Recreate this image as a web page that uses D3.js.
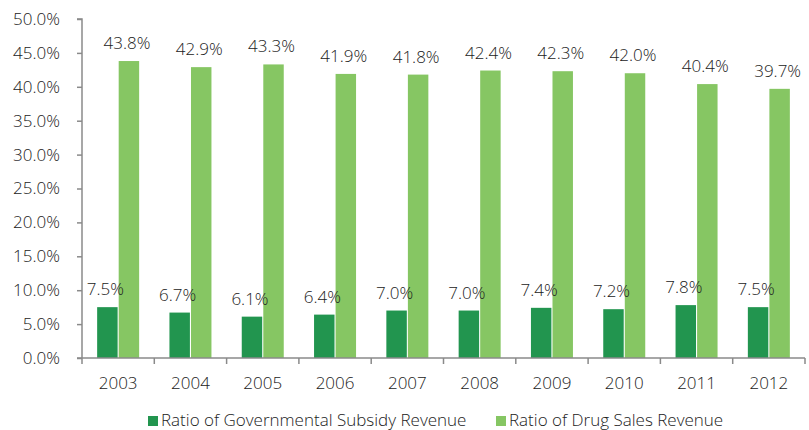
<!DOCTYPE html>
<html>
<head>
<meta charset="utf-8">
<script src="https://cdn.jsdelivr.net/npm/d3@7"></script>
<style>
  html, body { margin: 0; padding: 0; background: #fff; }
  svg text { font-family: "Open Sans", "Noto Sans", sans-serif; font-weight: 300; fill: #222; }
</style>
</head>
<body>
<svg id="chart" width="809" height="430"></svg>
<script>
const years = ["2003","2004","2005","2006","2007","2008","2009","2010","2011","2012"];
const subsidyRatio = [7.5, 6.7, 6.1, 6.4, 7.0, 7.0, 7.4, 7.2, 7.8, 7.5];
const drugSalesRatio = [43.8, 42.9, 43.3, 41.9, 41.8, 42.4, 42.3, 42.0, 40.4, 39.7];
const seriesNames = ["Ratio of Governmental Subsidy Revenue", "Ratio of Drug Sales Revenue"];
const seriesColors = ["#22954f", "#86c663"];
const yTicks = [0, 5, 10, 15, 20, 25, 30, 35, 40, 45, 50];

const svg = d3.select("#chart");
const margin = { left: 82, right: 4, top: 19, bottom: 72 };
const W = 809, H = 430;
const fs = 17;

const x0 = d3.scaleBand().domain(years).range([margin.left, W - margin.right]).paddingInner(0).paddingOuter(0);
const bw = x0.bandwidth();
const x1 = d3.scaleBand().domain([0, 1]).range([bw / 2 - 21, bw / 2 + 21]).paddingInner(0.05);
const y = d3.scaleLinear().domain([0, 50]).range([H - margin.bottom, margin.top]);

const series = [subsidyRatio, drugSalesRatio];

// bars
series.forEach((vals, si) => {
  svg.append("g").selectAll("rect").data(years).join("rect")
    .attr("x", d => x0(d) + x1(si))
    .attr("y", (d, i) => y(vals[i]))
    .attr("width", x1.bandwidth())
    .attr("height", (d, i) => y(0) - y(vals[i]))
    .attr("fill", seriesColors[si]);
});

// value labels
series.forEach((vals, si) => {
  svg.append("g").selectAll("text").data(years).join("text")
    .attr("x", d => x0(d) + x1(si) + x1.bandwidth() / 2 - 2)
    .attr("y", (d, i) => y(vals[i]) - 12)
    .attr("text-anchor", "middle")
    .attr("font-size", fs)
    .text((d, i) => vals[i].toFixed(1) + "%");
});

// y axis
const yAxis = d3.axisLeft(y).tickValues(yTicks).tickSize(5).tickFormat(d => d.toFixed(1) + "%");
const gy = svg.append("g").attr("transform", `translate(${margin.left},0)`).call(yAxis);
gy.select(".domain").attr("stroke", "#8a8a8a").attr("stroke-width", 1.5).attr("d", `M-5,${y(50)}H0V${y(0)}`);
gy.selectAll(".tick line").attr("stroke", "#8a8a8a").attr("stroke-width", 1.5);
gy.selectAll(".tick text").attr("font-size", fs).attr("x", -22).attr("font-family", null).attr("fill", null);

// x axis
const gx = svg.append("g").attr("transform", `translate(0,${y(0)})`);
gx.append("line").attr("x1", margin.left - 5).attr("x2", W - margin.right).attr("stroke", "#8a8a8a").attr("stroke-width", 1.5);
gx.selectAll("line.t").data(years.concat(["end"])).join("line").attr("class", "t")
  .attr("x1", (d, i) => margin.left + i * bw).attr("x2", (d, i) => margin.left + i * bw)
  .attr("y1", 0).attr("y2", 6).attr("stroke", "#8a8a8a").attr("stroke-width", 1.5);
gx.selectAll("text").data(years).join("text")
  .attr("x", d => x0(d) + bw / 2)
  .attr("y", 31)
  .attr("text-anchor", "middle")
  .attr("font-size", fs)
  .text(d => d);

// legend
const legend = svg.append("g");
const legendX = [148, 496];
seriesNames.forEach((name, i) => {
  legend.append("rect").attr("x", legendX[i]).attr("y", 416).attr("width", 10).attr("height", 10).attr("fill", seriesColors[i]);
  legend.append("text").attr("x", legendX[i] + 13).attr("y", 426).attr("font-size", fs).text(name);
});
</script>
</body>
</html>
